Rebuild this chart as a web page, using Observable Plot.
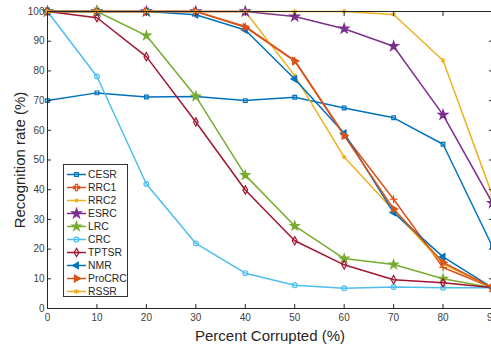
<!DOCTYPE html>
<html>
<head>
<meta charset="utf-8">
<script src="https://cdn.jsdelivr.net/npm/d3@7"></script>
<script src="https://cdn.jsdelivr.net/npm/@observablehq/plot@0.6"></script>
<style>
  html, body { margin: 0; padding: 0; background: #fff; overflow: hidden; }
  #wrap { position: relative; width: 491px; height: 346px; overflow: hidden; }
  #chart svg { font-family: "Liberation Sans", Arial, sans-serif; max-width: none !important; }
  g[aria-label="x-axis label"] text, g[aria-label="y-axis label"] text { font-size: 15px; fill: #262626; }
  #legend { position: absolute; left: 63px; top: 164px; width: 65px; height: 133px;
    border: 1px solid #333; background: #fff; box-sizing: border-box;
    font-family: "Liberation Sans", Arial, sans-serif; font-size: 10.4px; color: #262626; }
  .row { position: absolute; left: 2px; height: 13px; display: flex; align-items: center; }
  .row svg { display: block; }
  .row span { margin-left: 1px; }
</style>
</head>
<body>
<div id="wrap"><div id="chart"></div><div id="legend"></div></div>
<script>
const pct = [0, 10, 20, 30, 40, 50, 60, 70, 80, 90];
const xTicks = [0, 10, 20, 30, 40, 50, 60, 70, 80, 90];
const yTicks = [0, 10, 20, 30, 40, 50, 60, 70, 80, 90, 100];

const names = ["CESR", "RRC1", "RRC2", "ESRC", "LRC", "CRC", "TPTSR", "NMR", "ProCRC", "RSSR"];
const CESR   = [70, 72.6, 71.2, 71.4, 70, 71.1, 67.5, 64.2, 55.3, 20.8];
const RRC1   = [100, 100, 100, 100, 95, 83.5, 58.5, 36.8, 13.8, 7];
const RRC2   = [100, 100, 100, 100, 100, 78.4, 51, 33, 15, 7];
const ESRC   = [100, 100, 100, 100, 100, 98.3, 94.2, 88.3, 65.2, 35.5];
const LRC    = [100, 100, 91.9, 71.4, 44.9, 27.8, 16.8, 14.8, 10, 7];
const CRC    = [100, 78.1, 41.9, 21.9, 11.9, 7.8, 6.8, 7.25, 7, 7];
const TPTSR  = [100, 97.9, 84.8, 62.8, 39.9, 22.8, 14.7, 9.7, 8.7, 7];
const NMR    = [100, 100, 100, 98.9, 93.8, 77.3, 59, 32.3, 17.4, 7];
const ProCRC = [100, 100, 100, 100, 94.7, 83.3, 58.2, 33.5, 15.5, 7];
const RSSR   = [100, 100, 100, 100, 100, 100, 100, 99, 83.5, 38];

const values = [CESR, RRC1, RRC2, ESRC, LRC, CRC, TPTSR, NMR, ProCRC, RSSR];
const colors = ["#0072BD", "#D95319", "#EDB120", "#7E2F8E", "#77AC30", "#4DBEEE", "#A2142F", "#0072BD", "#D95319", "#EDB120"];
const symbols = ["square", "plus", "circle", "star", "star", "circle", "diamond", "triangle", "triangle", "asterisk"];
const rotations = [0, 0, 0, 0, 0, 0, 0, -90, 90, 0];
const fills = ["none", "none", "#EDB120", "#7E2F8E", "#77AC30", "none", "none", "#0072BD", "#D95319", "none"];
const radii = [2.1, 2.6, 1.5, 3, 2.8, 2.4, 2.5, 2.4, 2.6, 2.3];

const series = names.map((name, i) => ({
  name, color: colors[i], symbol: symbols[i], rotate: rotations[i], fill: fills[i], r: radii[i],
  data: pct.map((p, j) => ({x: p, y: values[i][j]}))
}));

const marks = [];
for (const s of series) {
  marks.push(Plot.line(s.data, {x: "x", y: "y", stroke: s.color, strokeWidth: 1.5}));
  marks.push(Plot.dot(s.data, {x: "x", y: "y", symbol: () => s.symbol, r: s.r, stroke: s.color,
    fill: s.fill, strokeWidth: 1.2, rotate: s.rotate}));
}

const chart = Plot.plot({
  width: 500, height: 346,
  marginLeft: 47, marginRight: 8, marginTop: 11, marginBottom: 38,
  style: {maxWidth: "none"},
  x: {domain: [0, 90]},
  y: {domain: [0, 100]},
  marks: [
    ...marks,
    Plot.frame({stroke: "#262626", strokeWidth: 1}),
    Plot.axisX({ticks: xTicks, tickSize: 4, dy: -4, text: null, label: null, stroke: "#262626"}),
    Plot.axisX({ticks: xTicks, anchor: "top", tickSize: 4, dy: 4, text: null, label: null, stroke: "#262626"}),
    Plot.axisY({ticks: yTicks, tickSize: 4, dx: 4, text: null, label: null, stroke: "#262626"}),
    Plot.axisY({ticks: yTicks, anchor: "right", tickSize: 4, dx: -4, text: null, label: null, stroke: "#262626"}),
    Plot.axisX({ticks: xTicks, tickSize: 0, tickPadding: 5, fill: "#404040",
      label: "Percent Corrupted (%)", labelAnchor: "center", labelOffset: 32, labelArrow: "none"}),
    Plot.axisY({ticks: yTicks, tickSize: 0, tickPadding: 3, fill: "#404040",
      label: "Recognition rate (%)", labelAnchor: "center", labelOffset: 33, labelArrow: "none"})
  ]
});
document.getElementById("chart").appendChild(chart);

// legend
const legend = document.getElementById("legend");
const symMap = {square: d3.symbolSquare, plus: d3.symbolCross, circle: d3.symbolCircle, star: d3.symbolStar,
  diamond: d3.symbolDiamond, triangle: d3.symbolTriangle, asterisk: d3.symbolAsterisk};
series.forEach((s, i) => {
  const row = document.createElement("div");
  row.className = "row";
  row.style.top = (3 + i * 13) + "px";
  const svg = d3.create("svg").attr("width", 21).attr("height", 13);
  svg.append("line").attr("x1", 1).attr("x2", 20).attr("y1", 6.5).attr("y2", 6.5)
    .attr("stroke", s.color).attr("stroke-width", 1.5);
  const sym = d3.symbol(symMap[s.symbol], Math.PI * s.r * s.r);
  svg.append("path").attr("d", sym())
    .attr("transform", `translate(10.5,6.5) rotate(${s.rotate})`)
    .attr("stroke", s.color).attr("fill", s.fill).attr("stroke-width", 1.2);
  row.appendChild(svg.node());
  const t = document.createElement("span");
  t.textContent = s.name;
  row.appendChild(t);
  legend.appendChild(row);
});
</script>
</body>
</html>
